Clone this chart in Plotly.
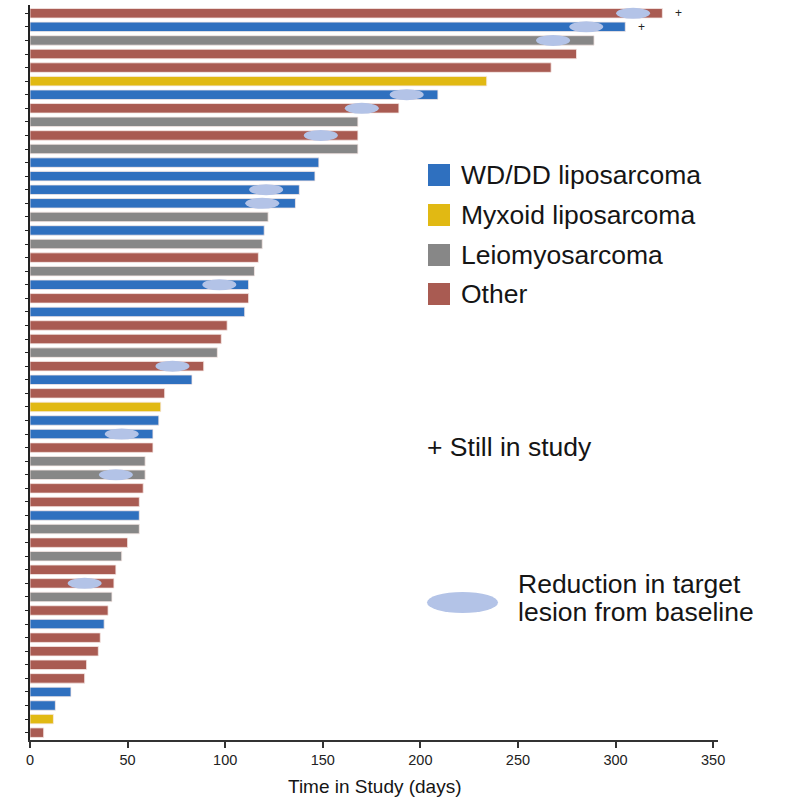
import plotly.graph_objects as go

# ---- data ----
patients = list(range(1, 55))
days = [324, 305, 289, 280, 267, 234, 209, 189, 168, 168, 168, 148, 146, 138, 136,
        122, 120, 119, 117, 115, 112, 112, 110, 101, 98, 96, 89, 83, 69, 67, 66, 63,
        63, 59, 59, 58, 56, 56, 56, 50, 47, 44, 43, 42, 40, 38, 36, 35, 29, 28, 21,
        13, 12, 7]
histology = ["O", "W", "L", "O", "O", "M", "W", "O", "L", "O", "L", "W", "W", "W", "W",
             "L", "W", "L", "O", "L", "W", "O", "W", "O", "O", "L", "O", "W", "O", "M",
             "W", "W", "O", "L", "L", "O", "O", "W", "L", "O", "L", "O", "O", "L", "O",
             "W", "O", "O", "O", "O", "W", "W", "M", "O"]
reduction_patients = [1, 2, 3, 7, 8, 10, 14, 15, 21, 27, 32, 35, 43]
reduction_days = [309, 285, 268, 193, 170, 149, 121, 119, 97, 73, 47, 44, 28]
still_in_study = [1, 2]
x_ticks = [0, 50, 100, 150, 200, 250, 300, 350]

categories = ["W", "M", "L", "O"]
category_names = ["WD/DD liposarcoma", "Myxoid liposarcoma", "Leiomyosarcoma", "Other"]
colors = {"W": "#2f70bf", "M": "#e1b913", "L": "#878787", "O": "#a95b52"}
oval_color = "#b3c3e7"
FONT = "Liberation Sans, Arial, sans-serif"
BIG = 26.5

fig = go.Figure()
for c, name in zip(categories, category_names):
    ys = [p for p, h in zip(patients, histology) if h == c]
    xs = [d for d, h in zip(days, histology) if h == c]
    fig.add_trace(go.Bar(x=xs, y=ys, orientation="h", name=name, width=0.7,
                         marker=dict(color=colors[c], line=dict(color="#f6e9e6", width=0.8)),
                         showlegend=False))

# reduction ovals (anchored at data, pixel size)
for p, d in zip(reduction_patients, reduction_days):
    fig.add_shape(type="circle", xref="x", yref="y", xsizemode="pixel", ysizemode="pixel",
                  xanchor=d, yanchor=p, x0=-17, x1=17, y0=-5.5, y1=5.5,
                  fillcolor=oval_color, line=dict(width=0), layer="above")

# still in study markers
for p in still_in_study:
    fig.add_annotation(x=days[p - 1], y=p, text="+", showarrow=False, xref="x", yref="y",
                       xshift=16, xanchor="center", yanchor="middle",
                       font=dict(family=FONT, size=12, color="#222"))

# ---- custom legend (pixel -> paper conversion) ----
L, R, T, B = 30, 718, 5, 740
def px(x):
    return (x - L) / (R - L)
def py(y):
    return (B - y) / (B - T)

leg_y = [175, 215, 255, 294]
for c, name, yy in zip(categories, category_names, leg_y):
    fig.add_shape(type="rect", xref="paper", yref="paper",
                  x0=px(428), x1=px(450), y0=py(yy + 11), y1=py(yy - 11),
                  fillcolor=colors[c], line=dict(width=0))
    fig.add_annotation(xref="paper", yref="paper", x=px(459), y=py(yy), text=name,
                       showarrow=False, xanchor="left", yanchor="middle",
                       font=dict(family=FONT, size=BIG, color="#151515"))

fig.add_annotation(xref="paper", yref="paper", x=px(425), y=py(447), text="+ Still in study",
                   showarrow=False, xanchor="left", yanchor="middle",
                   font=dict(family=FONT, size=BIG, color="#151515"))

fig.add_shape(type="circle", xref="paper", yref="paper",
              x0=px(427), x1=px(498), y0=py(613), y1=py(592),
              fillcolor=oval_color, line=dict(width=0))
fig.add_annotation(xref="paper", yref="paper", x=px(516), y=py(584), text="Reduction in target",
                   showarrow=False, xanchor="left", yanchor="middle",
                   font=dict(family=FONT, size=BIG, color="#151515"))
fig.add_annotation(xref="paper", yref="paper", x=px(516), y=py(612), text="lesion from baseline",
                   showarrow=False, xanchor="left", yanchor="middle",
                   font=dict(family=FONT, size=BIG, color="#151515"))

# x-axis title as annotation
fig.add_annotation(xref="paper", yref="paper", x=px(375), y=py(786), text="Time in Study (days)",
                   showarrow=False, xanchor="center", yanchor="middle",
                   font=dict(family=FONT, size=19, color="#151515"))

fig.update_layout(
    width=785, height=798,
    margin=dict(l=L, r=785 - R, t=T, b=798 - B, autoexpand=False),
    paper_bgcolor="white", plot_bgcolor="white",
    barmode="overlay",
    font=dict(family=FONT, color="#222"),
    xaxis=dict(range=[0, 352.5], tickvals=x_ticks, automargin=False,
               ticks="outside", ticklen=6, tickwidth=1.5, tickcolor="#333",
               showline=True, linewidth=2, linecolor="#333", showgrid=False, zeroline=False,
               tickfont=dict(size=14.5, color="#222")),
    yaxis=dict(range=[54.54, 0.39], tickvals=patients, showticklabels=False, automargin=False,
               ticks="outside", ticklen=3, tickwidth=1, tickcolor="#222",
               showline=True, linewidth=2, linecolor="#222", showgrid=False, zeroline=False),
)

fig.write_html("out.html", config={"displayModeBar": False},
               post_script="document.body.style.margin='0';document.body.style.overflow='hidden';")
